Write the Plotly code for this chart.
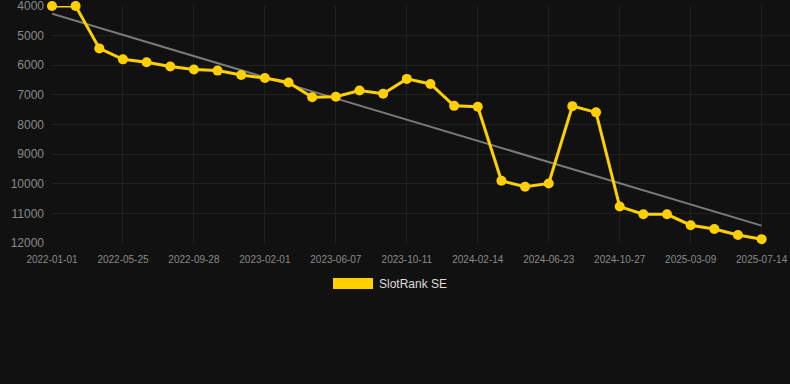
import numpy as np
import plotly.graph_objects as go

dates = ["2022-01-01", "2022-02-17", "2022-04-06", "2022-05-25", "2022-07-06", "2022-08-17",
         "2022-09-28", "2022-11-09", "2022-12-21", "2023-02-01", "2023-03-15", "2023-04-26",
         "2023-06-07", "2023-07-19", "2023-08-30", "2023-10-11", "2023-11-22", "2024-01-03",
         "2024-02-14", "2024-03-28", "2024-05-10", "2024-06-23", "2024-08-04", "2024-09-15",
         "2024-10-27", "2024-12-10", "2025-01-24", "2025-03-09", "2025-04-20", "2025-06-01",
         "2025-07-14"]
rank = [4000, 4000, 5430, 5800, 5900, 6040, 6140, 6180, 6330, 6430, 6580, 7080, 7060,
        6850, 6960, 6460, 6630, 7370, 7400, 9900, 10100, 9990, 7380, 7590, 10770, 11030,
        11030, 11400, 11530, 11730, 11870]
tick_labels = dates[::3]
y_ticks = [4000, 5000, 6000, 7000, 8000, 9000, 10000, 11000, 12000]
series_name = "SlotRank SE"

idx = np.arange(len(rank))
slope, intercept = np.polyfit(idx, rank, 1)
trend = slope * idx + intercept

fig = go.Figure()
fig.add_trace(go.Scatter(
    x=dates, y=trend, mode="lines",
    line=dict(color="#7a7a7a", width=2), showlegend=False, hoverinfo="skip"))
fig.add_trace(go.Scatter(
    x=dates, y=rank, mode="lines+markers", name=series_name,
    line=dict(color="#FFD000", width=3), marker=dict(color="#FFD000", size=10),
    cliponaxis=False, showlegend=False))

fig.add_shape(type="rect", xref="paper", yref="paper",
              x0=(333 - 52) / 738, x1=(373 - 52) / 738,
              y0=(243 - 289) / 237, y1=(243 - 278) / 237,
              fillcolor="#FFD000", line=dict(width=0))
fig.add_annotation(text=series_name, xref="paper", yref="paper",
                   x=(377 - 52) / 738, y=(243 - 284) / 237, xanchor="left", yanchor="middle",
                   showarrow=False, font=dict(color="#dddddd", size=12))

fig.update_layout(
    width=790, height=384,
    margin=dict(l=52, r=0, t=6, b=141),
    paper_bgcolor="#111111", plot_bgcolor="#111111",
    font=dict(family="Liberation Sans, Arial, sans-serif"),
    xaxis=dict(type="category", range=[0, 31.2], tickvals=tick_labels, ticktext=tick_labels,
               tickfont=dict(color="#8a8a8a", size=10), gridcolor="#202020",
               showline=False, zeroline=False, ticks="", ticklabelstandoff=9,
               ticklabeloverflow="allow"),
    yaxis=dict(range=[12000, 3999], tickvals=y_ticks, ticktext=[str(v) for v in y_ticks],
               tickfont=dict(color="#8a8a8a", size=12), gridcolor="#202020",
               zeroline=False, showline=False, ticks="", ticklabelstandoff=7,
               ticklabeloverflow="allow"),
)
fig.write_html("out.html", config={"displayModeBar": False},
               post_script="document.body.style.margin='0';document.body.style.background='#111111';")
